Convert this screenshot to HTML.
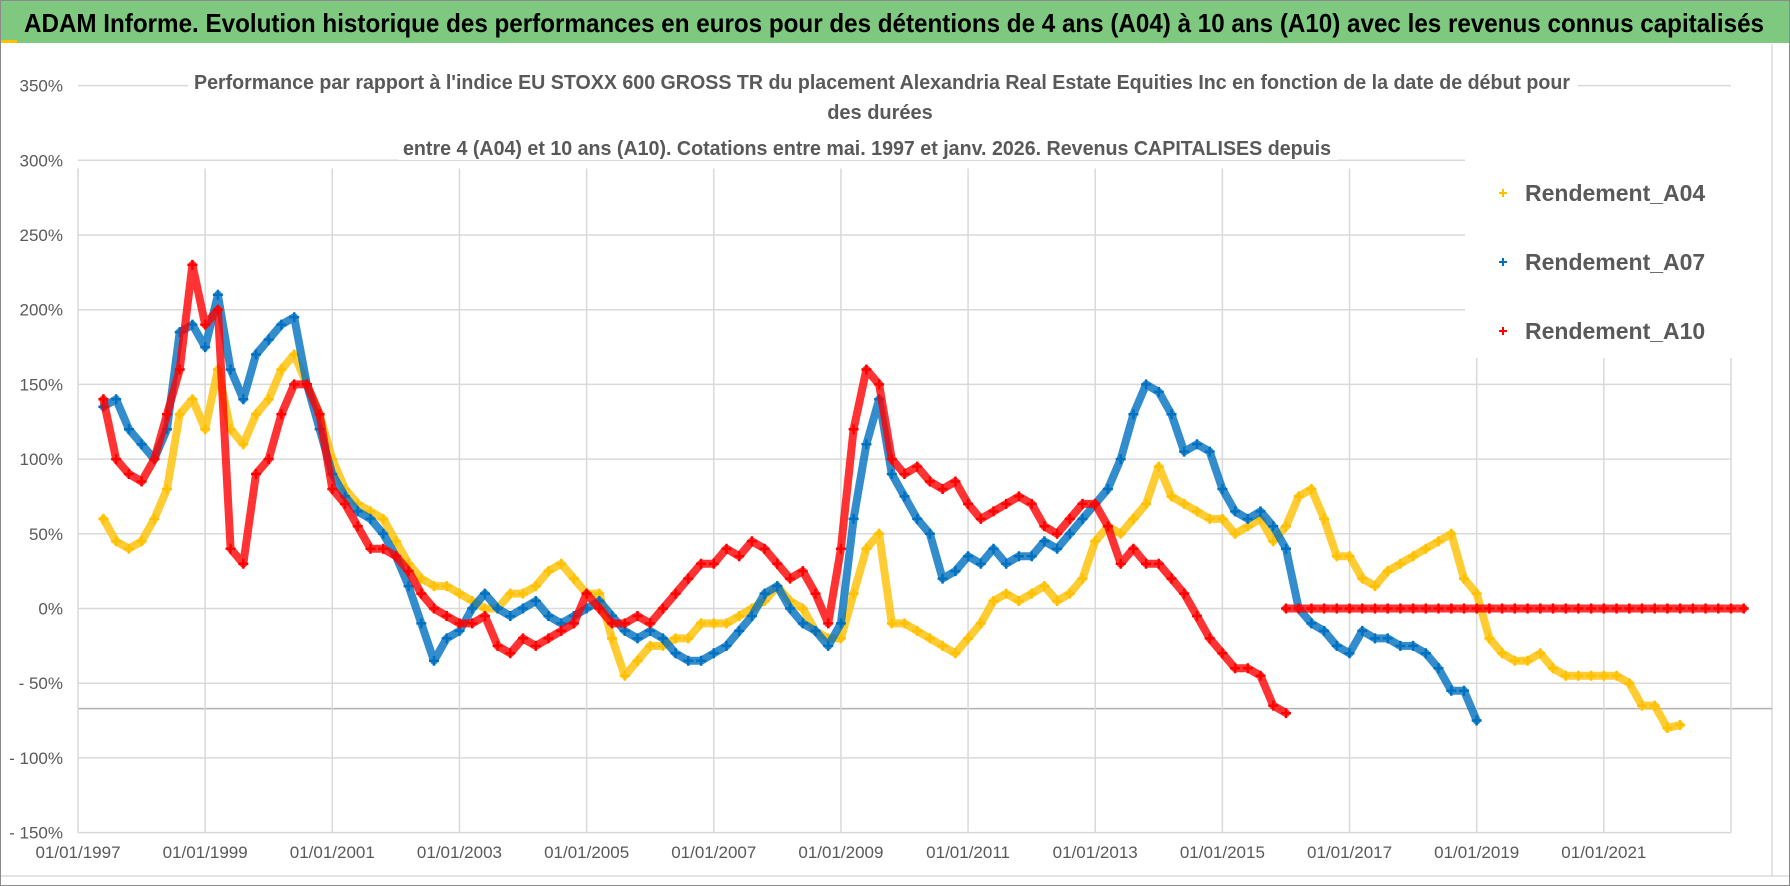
<!DOCTYPE html>
<html><head><meta charset="utf-8"><style>
html,body{margin:0;padding:0;background:#fff}
svg{display:block}
text{font-family:"Liberation Sans Narrow","Liberation Sans",sans-serif}
</style></head><body>
<svg id="chart" width="1790" height="886" viewBox="0 0 1790 886">
<rect x="0.5" y="0.5" width="1789" height="885" fill="#fff" stroke="#8a8a8a"/>
<rect x="1" y="1" width="1788" height="42" fill="#7ec87f"/>
<rect x="1" y="40" width="16" height="3" fill="#ffc000"/>
<text x="24" y="32" font-size="26" font-weight="bold" fill="#000" textLength="1740" lengthAdjust="spacingAndGlyphs">ADAM Informe. Evolution historique des performances en euros pour des détentions de 4 ans (A04) à 10 ans (A10) avec les revenus connus capitalisés</text>
<line x1="1772" y1="44" x2="1772" y2="876" stroke="#c8c8c8"/>
<line x1="1" y1="876" x2="1789" y2="876" stroke="#c8c8c8"/>
<g id="grid"></g>
<g id="yaxis"></g>
<g id="xaxis"></g>
<g id="series"></g>
<g>
<rect x="188" y="64" width="1390" height="30" fill="#fff"/>
<rect x="820" y="96" width="120" height="28" fill="#fff"/>
<rect x="398" y="130" width="940" height="30" fill="#fff"/>
<text x="194" y="89" font-size="20" font-weight="bold" fill="#595959" textLength="1376" lengthAdjust="spacingAndGlyphs">Performance par rapport à l'indice EU STOXX 600 GROSS TR  du placement Alexandria Real Estate Equities Inc en fonction de la date de début pour</text>
<text x="880" y="119" font-size="20" font-weight="bold" fill="#595959" text-anchor="middle">des durées</text>
<text x="403" y="155" font-size="20" font-weight="bold" fill="#595959" textLength="928" lengthAdjust="spacingAndGlyphs">entre 4 (A04) et 10 ans (A10).  Cotations entre mai. 1997 et janv. 2026.  Revenus CAPITALISES  depuis</text>
</g>
<g>
<rect x="1465" y="158" width="302" height="200" fill="#fff"/>
<g><path d="M1499 193h8M1503 189v8" stroke="#ffc000" stroke-width="2"/><text x="1525" y="201" font-size="23" font-weight="bold" fill="#595959">Rendement_A04</text></g>
<g><path d="M1499 262h8M1503 258v8" stroke="#0070c0" stroke-width="2"/><text x="1525" y="270" font-size="23" font-weight="bold" fill="#595959">Rendement_A07</text></g>
<g><path d="M1499 331h8M1503 327v8" stroke="#ff0000" stroke-width="2"/><text x="1525" y="339" font-size="23" font-weight="bold" fill="#595959">Rendement_A10</text></g>
</g>
</svg>
<script>
const yTicks=[350,300,250,200,150,100,50,0,-50,-100,-150];
const xTickYears=[1997,1999,2001,2003,2005,2007,2009,2011,2013,2015,2017,2019,2021];
const xTickLabels=["01/01/1997","01/01/1999","01/01/2001","01/01/2003","01/01/2005","01/01/2007","01/01/2009","01/01/2011","01/01/2013","01/01/2015","01/01/2017","01/01/2019","01/01/2021"];
const seriesStart=1997.4;
const seriesStep=0.2;
const a04Values=[60,45,40,45,60,80,130,140,120,160,120,110,130,140,160,170,150,130,100,80,70,65,60,45,30,20,15,15,10,5,0,0,10,10,15,25,30,20,10,10,-20,-45,-35,-25,-25,-20,-20,-10,-10,-10,-5,0,5,15,5,0,-15,-20,-20,10,40,50,-10,-10,-15,-20,-25,-30,-20,-10,5,10,5,10,15,5,10,20,45,55,50,60,70,95,75,70,65,60,60,50,55,60,45,55,75,80,60,35,35,20,15,25,30,35,40,45,50,20,10,-20,-30,-35,-35,-30,-40,-45,-45,-45,-45,-45,-50,-65,-65,-80,-78];
const a07Values=[135,140,120,110,100,120,185,190,175,210,160,140,170,180,190,195,150,120,90,75,65,60,50,35,15,-10,-35,-20,-15,0,10,0,-5,0,5,-5,-10,-5,0,5,-5,-15,-20,-15,-20,-30,-35,-35,-30,-25,-15,-5,10,15,0,-10,-15,-25,-10,60,110,140,90,75,60,50,20,25,35,30,40,30,35,35,45,40,50,60,70,80,100,130,150,145,130,105,110,105,80,65,60,65,55,40,0,-10,-15,-25,-30,-15,-20,-20,-25,-25,-30,-40,-55,-55,-75];
const a10Values=[140,100,90,85,100,130,160,230,190,200,40,30,90,100,130,150,150,130,80,70,55,40,40,35,25,10,0,-5,-10,-10,-5,-25,-30,-20,-25,-20,-15,-10,10,0,-10,-10,-5,-10,0,10,20,30,30,40,35,45,40,30,20,25,10,-10,40,120,160,150,100,90,95,85,80,85,70,60,65,70,75,70,55,50,60,70,70,55,30,40,30,30,20,10,-5,-20,-30,-40,-40,-45,-65,-70];
const a10TailStart=2016.0;
const a10TailValues=[0,0,0,0,0,0,0,0,0,0,0,0,0,0,0,0,0,0,0,0,0,0,0,0,0,0,0,0,0,0,0,0,0,0,0,0,0];
const NS='http://www.w3.org/2000/svg';
const X0=78,X1=1731,YR0=1997,YR1=2023,Y0=608.5,PX50=74.7;
function xs(yr){return X0+(yr-YR0)/(YR1-YR0)*(X1-X0);}
function ys(v){return Y0-v/50*PX50;}
function mk(tag,attrs,parent){const e=document.createElementNS(NS,tag);for(const k in attrs)e.setAttribute(k,attrs[k]);parent.appendChild(e);return e;}
const grid=document.getElementById('grid'),ya=document.getElementById('yaxis'),xa=document.getElementById('xaxis'),sg=document.getElementById('series');
yTicks.forEach(v=>{
  const l=mk('line',{x1:X0,x2:X1,y1:ys(v),y2:ys(v),stroke:'#d9d9d9','stroke-width':1.5},grid);
  
  
  const t=mk('text',{x:63,y:ys(v)+6,'font-size':17,fill:'#595959','text-anchor':'end'},ya);
  t.textContent=(v<0?'- '+(-v):v)+'%';
  
  
});
const ref=mk('line',{x1:X0,x2:1772,y1:ys(-67),y2:ys(-67),stroke:'#b0b0b0','stroke-width':1.5},grid);


xTickYears.forEach((yr,i)=>{
  const l=mk('line',{x1:xs(yr),x2:xs(yr),y1:ys(0)-440,y2:ys(-150),stroke:'#d9d9d9','stroke-width':1.5},grid);
  
  
  const t=mk('text',{x:xs(yr),y:858,'font-size':17,fill:'#595959','text-anchor':'middle'},xa);
  t.textContent=xTickLabels[i];
  
  
});
[2023].forEach(yr=>{const l=mk('line',{x1:xs(yr),x2:xs(yr),y1:ys(0)-440,y2:ys(-150),stroke:'#d9d9d9','stroke-width':1.5},grid);
  
  });
function drawSeries(vals,start,color,name){
  const g=mk('g',{},sg);
  
  
  let pts=vals.map((v,i)=>xs(start+i*seriesStep).toFixed(1)+','+ys(v).toFixed(1)).join(' ');
  mk('polyline',{points:pts,fill:'none',stroke:color,'stroke-width':8,'stroke-linejoin':'round','stroke-linecap':'round','stroke-opacity':0.8},g);
  let d='';
  vals.forEach((v,i)=>{const x=xs(start+i*seriesStep),y=ys(v);d+=`M${(x-5).toFixed(1)} ${y.toFixed(1)}h10M${x.toFixed(1)} ${(y-5).toFixed(1)}v10`;});
  mk('path',{d:d,stroke:color,'stroke-width':2.5,fill:'none'},g);
}
drawSeries(a04Values,seriesStart,'#ffc000','series-a04');
drawSeries(a07Values,seriesStart,'#0070c0','series-a07');
drawSeries(a10Values,seriesStart,'#ff0000','series-a10');
drawSeries(a10TailValues,a10TailStart,'#ff0000','series-a10-tail');
</script>
</body></html>
